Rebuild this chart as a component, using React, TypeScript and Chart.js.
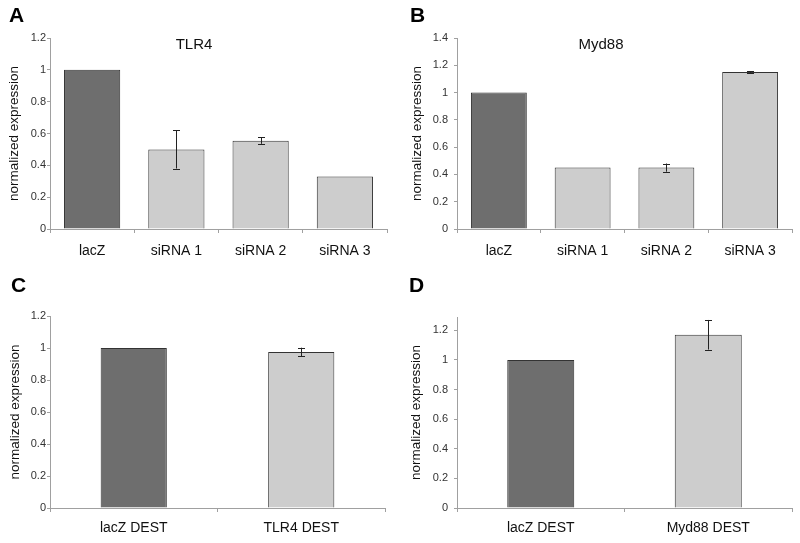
import React, { useEffect, useRef } from 'react';
import { Chart, registerables } from 'chart.js';

Chart.register(...registerables);

// ---- Data ----
const catsA = ['lacZ', 'siRNA 1', 'siRNA 2', 'siRNA 3'];
const valsA = [1.0, 0.5, 0.555, 0.33];
const errLoA = [null, 0.38, 0.535, null];
const errHiA = [null, 0.62, 0.575, null];

const catsB = ['lacZ', 'siRNA 1', 'siRNA 2', 'siRNA 3'];
const valsB = [1.0, 0.45, 0.45, 1.15];
const errLoB = [null, null, 0.42, 1.145];
const errHiB = [null, null, 0.48, 1.155];

const catsC = ['lacZ DEST', 'TLR4 DEST'];
const valsC = [1.0, 0.975];
const errLoC = [null, 0.948];
const errHiC = [null, 1.002];

const catsD = ['lacZ DEST', 'Myd88 DEST'];
const valsD = [1.0, 1.17];
const errLoD = [null, 1.07];
const errHiD = [null, 1.27];

const FONT = "'Liberation Sans', Arial, Helvetica, sans-serif";
const DARK = '#6e6e6e';
const LIGHT = '#cdcdcd';
const AXIS = '#a0a0a0';

const errorBarPlugin = {
  id: 'errorBars',
  afterDatasetsDraw(chart: any) {
    const ctx = chart.ctx;
    const yScale = chart.scales.y;
    chart.data.datasets.forEach((ds: any, di: number) => {
      const meta = chart.getDatasetMeta(di);
      const lo = ds.errLo || [];
      const hi = ds.errHi || [];
      meta.data.forEach((bar: any, i: number) => {
        if (lo[i] == null || hi[i] == null) return;
        const x = Math.round(bar.x) + 0.5;
        const y1 = yScale.getPixelForValue(lo[i]);
        const y2 = yScale.getPixelForValue(hi[i]);
        ctx.save();
        ctx.strokeStyle = '#222';
        ctx.lineWidth = 1;
        ctx.beginPath();
        ctx.moveTo(x, y1);
        ctx.lineTo(x, y2);
        ctx.moveTo(x - 3.5, Math.round(y1) + 0.5);
        ctx.lineTo(x + 3.5, Math.round(y1) + 0.5);
        ctx.moveTo(x - 3.5, Math.round(y2) + 0.5);
        ctx.lineTo(x + 3.5, Math.round(y2) + 0.5);
        ctx.stroke();
        ctx.restore();
      });
    });
  },
};

type PanelProps = {
  left: number;
  top: number;
  width: number;
  height: number;
  cats: string[];
  vals: number[];
  errLo: (number | null)[];
  errHi: (number | null)[];
  max: number;
  padTop: number;
  padRight: number;
  yWidth: number;
  xHeight: number;
  yTickPad: number;
  xTickPad: number;
  yTitlePad: number;
  barPct: number;
};

function Panel(p: PanelProps) {
  const ref = useRef<HTMLCanvasElement>(null);
  useEffect(() => {
    if (!ref.current) return;
    const chart = new Chart(ref.current, {
      type: 'bar',
      data: {
        labels: p.cats,
        datasets: [
          {
            data: p.vals,
            errLo: p.errLo,
            errHi: p.errHi,
            backgroundColor: p.cats.map((_, i) => (i === 0 ? DARK : LIGHT)),
            borderColor: '#333333',
            borderWidth: 1,
            categoryPercentage: 1,
            barPercentage: p.barPct,
          } as any,
        ],
      },
      options: {
        animation: false,
        responsive: false,
        maintainAspectRatio: false,
        layout: { padding: { top: p.padTop, right: p.padRight, left: 0, bottom: 0 } },
        plugins: { legend: { display: false }, tooltip: { enabled: false }, title: { display: false } },
        scales: {
          x: {
            offset: true,
            grid: { display: true, drawOnChartArea: false, drawTicks: true, tickLength: 4, color: AXIS, offset: true },
            border: { display: true, color: AXIS, width: 1 },
            ticks: { color: '#111', font: { family: FONT, size: 14 }, padding: p.xTickPad, maxRotation: 0, autoSkip: false },
            afterFit: (s: any) => { s.height = p.xHeight; },
          },
          y: {
            min: 0,
            max: p.max,
            grid: { display: true, drawOnChartArea: false, drawTicks: true, tickLength: 3, color: AXIS },
            border: { display: true, color: AXIS, width: 1 },
            ticks: {
              stepSize: 0.2,
              includeBounds: false,
              color: '#333',
              font: { family: FONT, size: 11 },
              padding: p.yTickPad,
              callback: (v: any) => {
                const n = Math.round(Number(v) * 10) / 10;
                return String(n);
              },
            },
            title: {
              display: true,
              text: 'normalized expression',
              color: '#111',
              font: { family: FONT, size: 13.5 },
              padding: { top: p.yTitlePad, bottom: 0 },
            },
            afterFit: (s: any) => { s.width = p.yWidth; },
          },
        },
      } as any,
      plugins: [errorBarPlugin],
    });
    return () => chart.destroy();
  }, []);
  return (
    <canvas
      ref={ref}
      width={p.width}
      height={p.height}
      style={{ position: 'absolute', left: p.left, top: p.top, width: p.width, height: p.height }}
    />
  );
}

const labelStyle: React.CSSProperties = {
  position: 'absolute',
  fontFamily: FONT,
  fontWeight: 'bold',
  fontSize: 21,
  lineHeight: '21px',
  color: '#000',
};

const titleStyle: React.CSSProperties = {
  position: 'absolute',
  fontFamily: FONT,
  fontSize: 15,
  lineHeight: '15px',
  color: '#111',
  width: 120,
  textAlign: 'center',
};

export default function App() {
  return (
    <div style={{ position: 'absolute', left: 0, top: 0, width: 800, height: 543, background: '#fff', overflow: 'hidden' }}>
      <Panel left={0} top={0} width={400} height={270} cats={catsA} vals={valsA} errLo={errLoA} errHi={errHiA}
        max={1.2} padTop={38} padRight={13} yWidth={50} xHeight={41} yTickPad={1} xTickPad={10} yTitlePad={6.5} barPct={0.667} />
      <Panel left={400} top={0} width={400} height={270} cats={catsB} vals={valsB} errLo={errLoB} errHi={errHiB}
        max={1.4} padTop={38} padRight={8} yWidth={57} xHeight={41} yTickPad={6} xTickPad={10} yTitlePad={9.5} barPct={0.667} />
      <Panel left={0} top={270} width={400} height={273} cats={catsC} vals={valsC} errLo={errLoC} errHi={errHiC}
        max={1.2} padTop={46} padRight={15} yWidth={50} xHeight={35} yTickPad={1} xTickPad={8} yTitlePad={7} barPct={0.395} />
      <Panel left={400} top={270} width={400} height={273} cats={catsD} vals={valsD} errLo={errLoD} errHi={errHiD}
        max={1.29} padTop={47} padRight={8} yWidth={57} xHeight={35} yTickPad={6} xTickPad={8} yTitlePad={8.5} barPct={0.4} />

      <div style={{ ...labelStyle, left: 9, top: 4 }}>A</div>
      <div style={{ ...labelStyle, left: 410, top: 4 }}>B</div>
      <div style={{ ...labelStyle, left: 11, top: 274 }}>C</div>
      <div style={{ ...labelStyle, left: 409, top: 274 }}>D</div>

      <div style={{ ...titleStyle, left: 134, top: 36 }}>TLR4</div>
      <div style={{ ...titleStyle, left: 541, top: 36 }}>Myd88</div>
    </div>
  );
}
